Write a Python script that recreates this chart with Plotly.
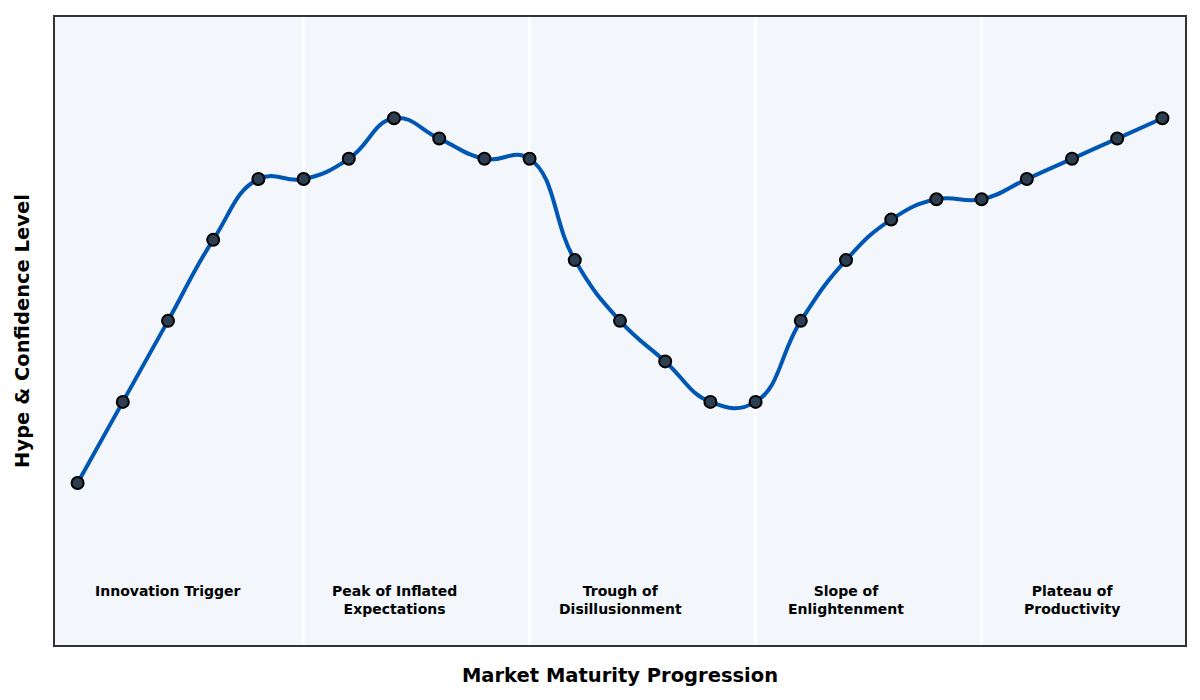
import plotly.graph_objects as go

# hype cycle points
stage = list(range(25))
hype = [8, 12, 16, 20, 23, 23, 24, 26, 25, 24, 24, 19, 16, 14, 12, 12,
        16, 19, 21, 22, 22, 23, 24, 25, 26]

phase_names = ["Innovation Trigger", "Peak of Inflated<br>Expectations",
               "Trough of<br>Disillusionment", "Slope of<br>Enlightenment",
               "Plateau of<br>Productivity"]
phase_mid = [2, 7, 12, 17, 22]
phase_edges = [5, 10, 15, 20]

fig = go.Figure()
fig.add_trace(go.Scatter(
    x=stage, y=hype, mode="lines+markers",
    line=dict(color="#0057b3", width=4, shape="spline", smoothing=1.3),
    marker=dict(size=12, color="#2c3e50", line=dict(color="black", width=2)),
    showlegend=False, hoverinfo="skip"))

for e in phase_edges:
    fig.add_vline(x=e, line=dict(color="white", width=3), layer="below")

for name, m in zip(phase_names, phase_mid):
    fig.add_annotation(x=m, y=3.15, text="<b>" + name + "</b>", showarrow=False,
                       yanchor="top", font=dict(size=14, color="black"))

fig.update_layout(
    width=1200, height=700,
    margin=dict(l=47, r=23, t=7, b=63),
    paper_bgcolor="white", plot_bgcolor="#f3f7fb",
    font=dict(family="DejaVu Sans"),
)
fig.update_xaxes(range=[-0.5, 24.5], showticklabels=False, showgrid=False,
                 zeroline=False, showline=True, linecolor="#333", linewidth=2,
                 mirror=True, ticks="",
                 title=dict(text="<b>Market Maturity Progression</b>",
                            font=dict(size=19.5, color="black"), standoff=22))
fig.update_yaxes(range=[0, 31], showticklabels=False, showgrid=False,
                 zeroline=False, showline=True, linecolor="#333", linewidth=2,
                 mirror=True, ticks="",
                 title=dict(text="<b>Hype & Confidence Level</b>",
                            font=dict(size=19.5, color="black"), standoff=18))

fig.write_html("out.html")
